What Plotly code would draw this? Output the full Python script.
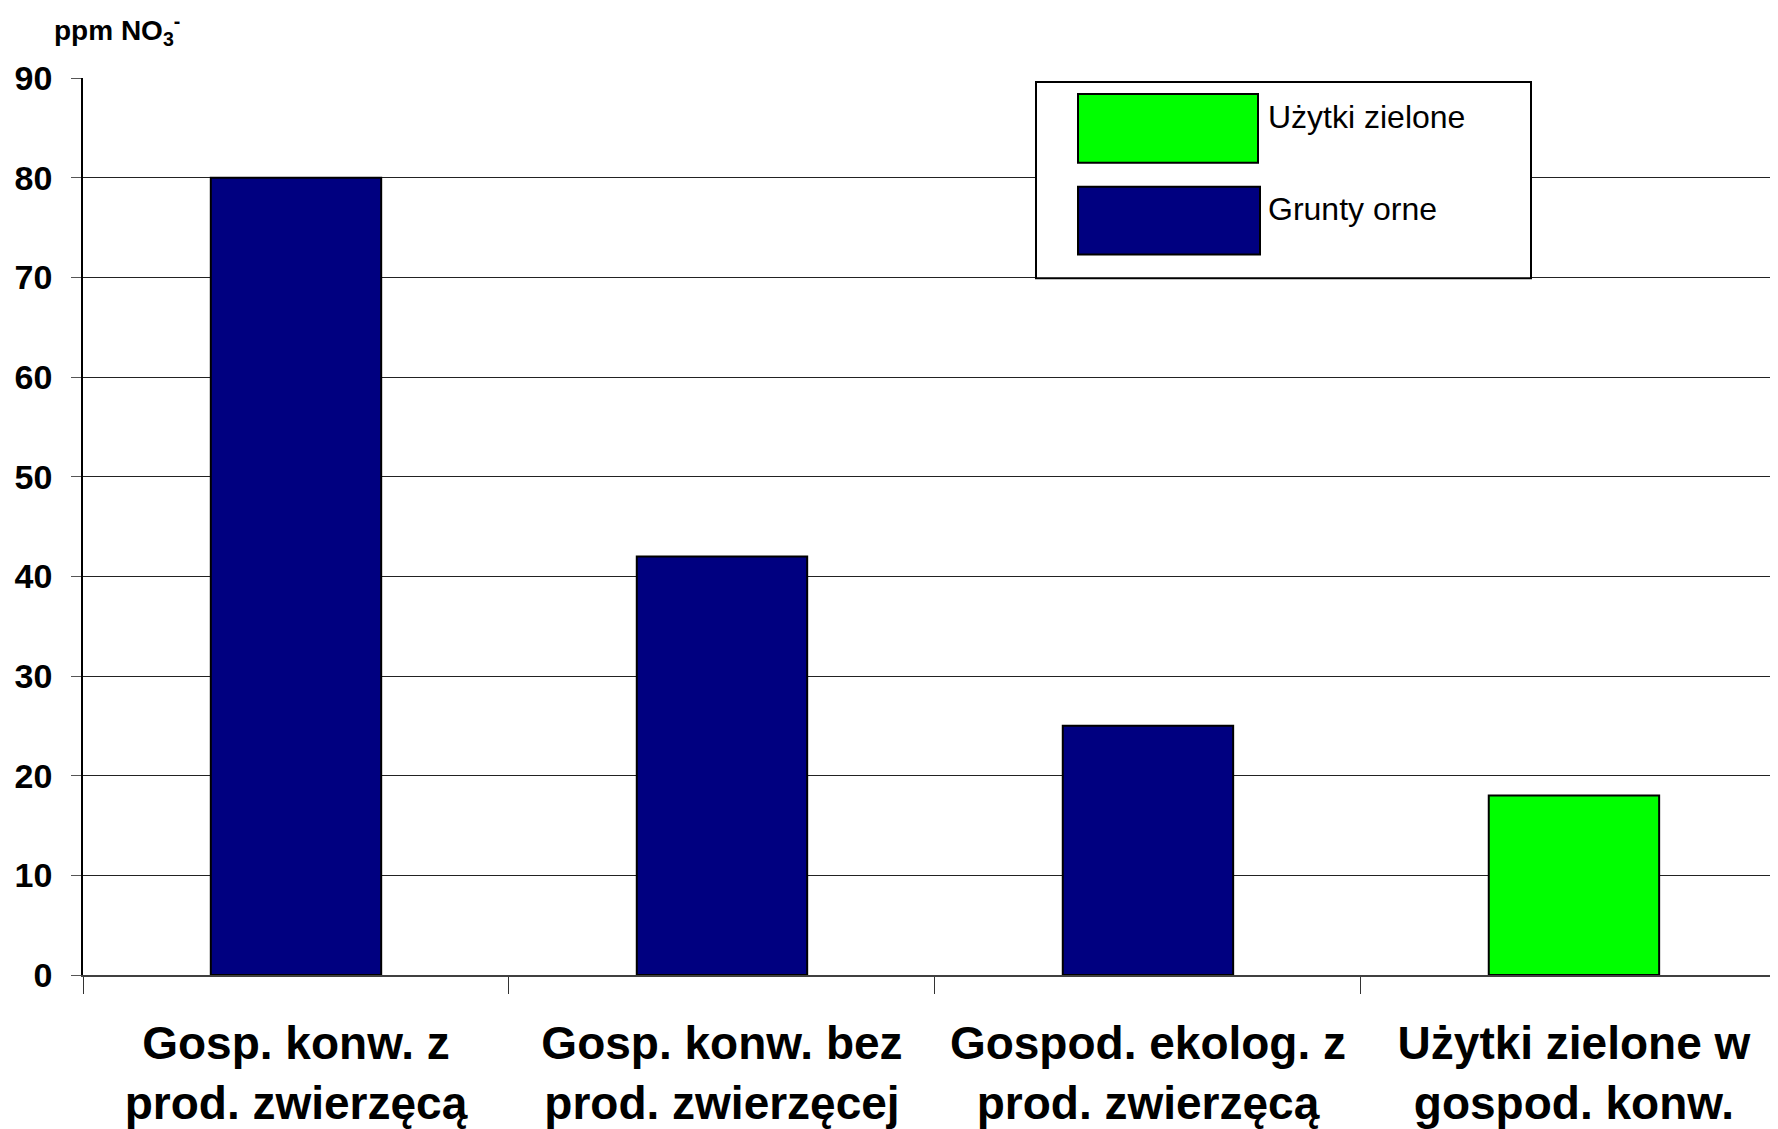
import plotly.graph_objects as go

# ---- data ----
categories = [
    "Gosp. konw. z<br>prod. zwierzęcą",
    "Gosp. konw. bez<br>prod. zwierzęcej",
    "Gospod. ekolog. z<br>prod. zwierzęcą",
    "Użytki zielone w<br>gospod. konw.",
]
series_names = ["Użytki zielone", "Grunty orne"]
uzytki_values = [None, None, None, 18]
grunty_values = [80, 42, 25, None]
series_colors = ["#00FF00", "#000080"]
y_ticks = [0, 10, 20, 30, 40, 50, 60, 70, 80, 90]
y_title = "ppm NO<sub>3</sub><sup>-</sup>"

OFF = 8  # page body margin
W, H = 1770, 1121
ML, MR, MT, MB = 75, 0, 70, 151
PW, PH = W - ML - MR, H - MT - MB


def px(x):  # page pixel -> paper
    return (x - OFF - ML) / PW


def py(y):
    return (H - MB - (y - OFF)) / PH


FONT = "Liberation Sans, Arial, sans-serif"

fig = go.Figure()
fig.add_trace(go.Bar(x=categories, y=grunty_values, name=series_names[1],
                     marker=dict(color=series_colors[1], line=dict(color="black", width=2)),
                     width=0.4, showlegend=False))
fig.add_trace(go.Bar(x=categories, y=uzytki_values, name=series_names[0],
                     marker=dict(color=series_colors[0], line=dict(color="black", width=2)),
                     width=0.4, showlegend=False))

# legend drawn manually (large swatches)
shapes = [
    dict(type="rect", xref="paper", yref="paper", x0=px(1036), x1=px(1531), y0=py(279), y1=py(82),
         fillcolor="white", line=dict(color="black", width=2), layer="above"),
    dict(type="rect", xref="paper", yref="paper", x0=px(1078), x1=px(1258), y0=py(163), y1=py(94),
         fillcolor=series_colors[0], line=dict(color="black", width=2), layer="above"),
    dict(type="rect", xref="paper", yref="paper", x0=px(1078), x1=px(1260), y0=py(255), y1=py(187),
         fillcolor=series_colors[1], line=dict(color="black", width=2), layer="above"),
]
annotations = [
    dict(xref="paper", yref="paper", x=px(1266), y=py(117), text=series_names[0], showarrow=False,
         xanchor="left", yanchor="middle", font=dict(family=FONT, size=32, color="black")),
    dict(xref="paper", yref="paper", x=px(1266), y=py(209), text=series_names[1], showarrow=False,
         xanchor="left", yanchor="middle", font=dict(family=FONT, size=32, color="black")),
    dict(xref="paper", yref="paper", x=px(52), y=py(30), text="<b>" + y_title + "</b>", showarrow=False,
         xanchor="left", yanchor="middle", font=dict(family=FONT, size=28, color="black")),
]

fig.update_layout(
    width=W, height=H,
    margin=dict(l=ML, r=MR, t=MT, b=MB, pad=0),
    paper_bgcolor="white", plot_bgcolor="white",
    barmode="overlay",
    shapes=shapes,
    annotations=annotations,
    font=dict(family=FONT, color="black"),
)
fig.update_xaxes(
    type="category",
    range=[-0.5, 3.479],
    tickson="boundaries",
    ticks="outside", ticklen=17, tickwidth=1, tickcolor="#333",
    showline=True, linecolor="#404040", linewidth=2,
    showgrid=False,
    tickfont=dict(family=FONT, size=46, color="black", weight="bold"),
    ticklabelstandoff=27,
)
fig.update_yaxes(
    range=[0, 90],
    tickvals=y_ticks,
    ticktext=[str(v) for v in y_ticks],
    ticks="outside", ticklen=10, tickwidth=1, tickcolor="#555",
    showline=True, linecolor="black", linewidth=1.5,
    showgrid=True, gridcolor="#222", gridwidth=1,
    zeroline=False,
    tickfont=dict(family=FONT, size=34, color="black", weight="bold"),
    ticklabelstandoff=12,
)

fig.write_html("out.html")
